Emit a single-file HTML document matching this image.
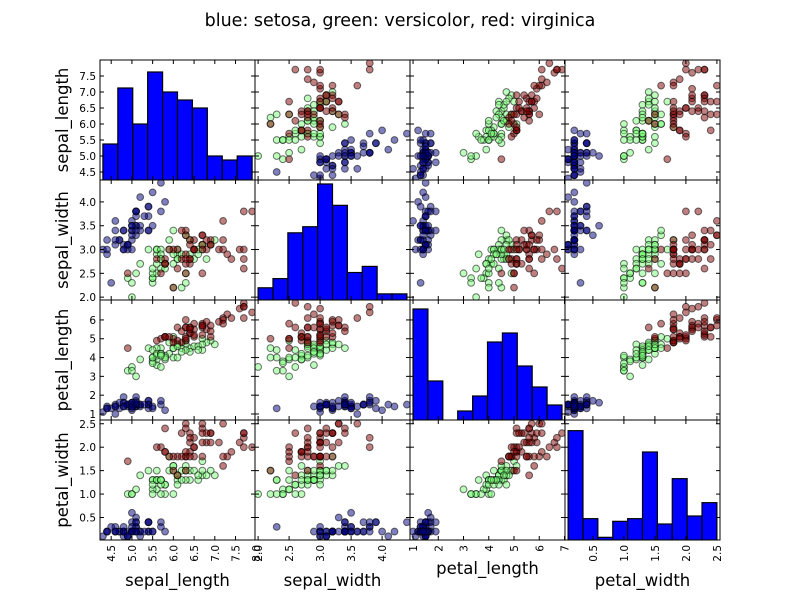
<!DOCTYPE html>
<html><head><meta charset="utf-8"><style>
body{margin:0;background:#fff;}
svg{display:block;font-family:"DejaVu Sans","Liberation Sans",sans-serif;}
</style></head><body>
<svg id="c" width="800" height="600" viewBox="0 0 800 600">
<rect width="800" height="600" fill="#fff"/>
<text x="400" y="26" text-anchor="middle" font-size="17.5">blue: setosa, green: versicolor, red: virginica</text>
</svg>
<script>
const varNames = ["sepal_length","sepal_width","petal_length","petal_width"];
const setosa = [[5.1,3.5,1.4,0.2],[4.9,3.0,1.4,0.2],[4.7,3.2,1.3,0.2],[4.6,3.1,1.5,0.2],[5.0,3.6,1.4,0.2],[5.4,3.9,1.7,0.4],[4.6,3.4,1.4,0.3],[5.0,3.4,1.5,0.2],[4.4,2.9,1.4,0.2],[4.9,3.1,1.5,0.1],[5.4,3.7,1.5,0.2],[4.8,3.4,1.6,0.2],[4.8,3.0,1.4,0.1],[4.3,3.0,1.1,0.1],[5.8,4.0,1.2,0.2],[5.7,4.4,1.5,0.4],[5.4,3.9,1.3,0.4],[5.1,3.5,1.4,0.3],[5.7,3.8,1.7,0.3],[5.1,3.8,1.5,0.3],[5.4,3.4,1.7,0.2],[5.1,3.7,1.5,0.4],[4.6,3.6,1.0,0.2],[5.1,3.3,1.7,0.5],[4.8,3.4,1.9,0.2],[5.0,3.0,1.6,0.2],[5.0,3.4,1.6,0.4],[5.2,3.5,1.5,0.2],[5.2,3.4,1.4,0.2],[4.7,3.2,1.6,0.2],[4.8,3.1,1.6,0.2],[5.4,3.4,1.5,0.4],[5.2,4.1,1.5,0.1],[5.5,4.2,1.4,0.2],[4.9,3.1,1.5,0.1],[5.0,3.2,1.2,0.2],[5.5,3.5,1.3,0.2],[4.9,3.1,1.5,0.1],[4.4,3.0,1.3,0.2],[5.1,3.4,1.5,0.2],[5.0,3.5,1.3,0.3],[4.5,2.3,1.3,0.3],[4.4,3.2,1.3,0.2],[5.0,3.5,1.6,0.6],[5.1,3.8,1.9,0.4],[4.8,3.0,1.4,0.3],[5.1,3.8,1.6,0.2],[4.6,3.2,1.4,0.2],[5.3,3.7,1.5,0.2],[5.0,3.3,1.4,0.2]];
const versicolor = [[7.0,3.2,4.7,1.4],[6.4,3.2,4.5,1.5],[6.9,3.1,4.9,1.5],[5.5,2.3,4.0,1.3],[6.5,2.8,4.6,1.5],[5.7,2.8,4.5,1.3],[6.3,3.3,4.7,1.6],[4.9,2.4,3.3,1.0],[6.6,2.9,4.6,1.3],[5.2,2.7,3.9,1.4],[5.0,2.0,3.5,1.0],[5.9,3.0,4.2,1.5],[6.0,2.2,4.0,1.0],[6.1,2.9,4.7,1.4],[5.6,2.9,3.6,1.3],[6.7,3.1,4.4,1.4],[5.6,3.0,4.5,1.5],[5.8,2.7,4.1,1.0],[6.2,2.2,4.5,1.5],[5.6,2.5,3.9,1.1],[5.9,3.2,4.8,1.8],[6.1,2.8,4.0,1.3],[6.3,2.5,4.9,1.5],[6.1,2.8,4.7,1.2],[6.4,2.9,4.3,1.3],[6.6,3.0,4.4,1.4],[6.8,2.8,4.8,1.4],[6.7,3.0,5.0,1.7],[6.0,2.9,4.5,1.5],[5.7,2.6,3.5,1.0],[5.5,2.4,3.8,1.1],[5.5,2.4,3.7,1.0],[5.8,2.7,3.9,1.2],[6.0,2.7,5.1,1.6],[5.4,3.0,4.5,1.5],[6.0,3.4,4.5,1.6],[6.7,3.1,4.7,1.5],[6.3,2.3,4.4,1.3],[5.6,3.0,4.1,1.3],[5.5,2.5,4.0,1.3],[5.5,2.6,4.4,1.2],[6.1,3.0,4.6,1.4],[5.8,2.6,4.0,1.2],[5.0,2.3,3.3,1.0],[5.6,2.7,4.2,1.3],[5.7,3.0,4.2,1.2],[5.7,2.9,4.2,1.3],[6.2,2.9,4.3,1.3],[5.1,2.5,3.0,1.1],[5.7,2.8,4.1,1.3]];
const virginica = [[6.3,3.3,6.0,2.5],[5.8,2.7,5.1,1.9],[7.1,3.0,5.9,2.1],[6.3,2.9,5.6,1.8],[6.5,3.0,5.8,2.2],[7.6,3.0,6.6,2.1],[4.9,2.5,4.5,1.7],[7.3,2.9,6.3,1.8],[6.7,2.5,5.8,1.8],[7.2,3.6,6.1,2.5],[6.5,3.2,5.1,2.0],[6.4,2.7,5.3,1.9],[6.8,3.0,5.5,2.1],[5.7,2.5,5.0,2.0],[5.8,2.8,5.1,2.4],[6.4,3.2,5.3,2.3],[6.5,3.0,5.5,1.8],[7.7,3.8,6.7,2.2],[7.7,2.6,6.9,2.3],[6.0,2.2,5.0,1.5],[6.9,3.2,5.7,2.3],[5.6,2.8,4.9,2.0],[7.7,2.8,6.7,2.0],[6.3,2.7,4.9,1.8],[6.7,3.3,5.7,2.1],[7.2,3.2,6.0,1.8],[6.2,2.8,4.8,1.8],[6.1,3.0,4.9,1.8],[6.4,2.8,5.6,2.1],[7.2,3.0,5.8,1.6],[7.4,2.8,6.1,1.9],[7.9,3.8,6.4,2.0],[6.4,2.8,5.6,2.2],[6.3,2.8,5.1,1.5],[6.1,2.6,5.6,1.4],[7.7,3.0,6.1,2.3],[6.3,3.4,5.6,2.4],[6.4,3.1,5.5,1.8],[6.0,3.0,4.8,1.8],[6.9,3.1,5.4,2.1],[6.7,3.1,5.6,2.4],[6.9,3.1,5.1,2.3],[5.8,2.7,5.1,1.9],[6.8,3.2,5.9,2.3],[6.7,3.3,5.7,2.5],[6.7,3.0,5.2,2.3],[6.3,2.5,5.0,1.9],[6.5,3.0,5.2,2.0],[6.2,3.4,5.4,2.3],[5.9,3.0,5.1,1.8]];
const histCounts = [
  [9,23,14,27,22,20,18,6,5,6],
  [4,7,22,24,38,31,9,11,2,2],
  [37,13,0,3,8,26,29,18,11,5],
  [41,8,1,7,8,33,6,23,9,14]
];
const histMax = [30,39.3,40,45];
const xTickLabels = [["4.5","5.0","5.5","6.0","6.5","7.0","7.5","8.0"],["2.0","2.5","3.0","3.5","4.0"],["1","2","3","4","5","6","7"],["0.5","1.0","1.5","2.0","2.5"]];
const yTickLabels = [["4.5","5.0","5.5","6.0","6.5","7.0","7.5"],["2.0","2.5","3.0","3.5","4.0"],["1","2","3","4","5","6"],["0.5","1.0","1.5","2.0","2.5"]];

const NS="http://www.w3.org/2000/svg";
const svg=document.getElementById('c');
const L=100,T=60,W=155,H=120;
const xDom=[[4.23,7.97],[1.95,4.45],[0.88,7.02],[0.05,2.55]];
const yDom=[[4.25,8.0],[1.94,4.46],[0.68,7.06],[0.02,2.58]];
const xs=(c,v)=>L+c*W+(v-xDom[c][0])/(xDom[c][1]-xDom[c][0])*W;
const ys=(r,v)=>T+(r+1)*H-(v-yDom[r][0])/(yDom[r][1]-yDom[r][0])*H;
function mk(tag,at,parent){const e=document.createElementNS(NS,tag);for(const k in at)e.setAttribute(k,at[k]);(parent||svg).appendChild(e);return e;}
const defs=mk('defs',{});
for(let r=0;r<4;r++)for(let c=0;c<4;c++){
  const cp=mk('clipPath',{id:'cp'+r+c},defs);
  mk('rect',{x:L+c*W,y:T+r*H,width:W,height:H},cp);
}
const classes=[[setosa,'rgba(0,0,127,0.5)'],[versicolor,'rgba(124,255,121,0.5)'],[virginica,'rgba(127,0,0,0.5)']];
for(let r=0;r<4;r++)for(let c=0;c<4;c++){
  const g=mk('g',{'clip-path':'url(#cp'+r+c+')'});
  
  
  if(r===c){
    const cnt=histCounts[r];
    const all=[].concat(setosa,versicolor,virginica).map(d=>d[c]);
    const lo=Math.min(...all), hi=Math.max(...all);
    const bw=(hi-lo)/cnt.length;
    cnt.forEach((n,i)=>{
      const x0=xs(c,lo+i*bw),x1=xs(c,lo+(i+1)*bw);
      const h=n/histMax[r]*H;
      const b=mk('rect',{x:x0,y:T+(r+1)*H-h,width:x1-x0,height:h,fill:'#0000ff',stroke:'#000','stroke-width':1.2},g);
      
      
    });
  } else {
    classes.forEach(([data,col])=>{
      data.forEach(d=>{
        const p=mk('circle',{cx:xs(c,d[c]),cy:ys(r,d[r]),r:3.4,fill:col,stroke:'rgba(0,0,0,0.55)','stroke-width':1},g);
        
        
      });
    });
  }
  const x0=L+c*W,y0=T+r*H;
  const fr=mk('rect',{x:x0,y:y0,width:W,height:H,fill:'none',stroke:'#000','stroke-width':1});
  
  
  xTickLabels[c].forEach(t=>{const x=xs(c,+t);if(x<x0-0.5||x>x0+W+0.5)return;
    mk('line',{x1:x,x2:x,y1:y0+H,y2:y0+H-4,stroke:'#000'});mk('line',{x1:x,x2:x,y1:y0,y2:y0+4,stroke:'#000'});});
  yTickLabels[r].forEach(t=>{const y=ys(r,+t);if(y<y0-0.5||y>y0+H+0.5)return;
    mk('line',{x1:x0,x2:x0+4,y1:y,y2:y,stroke:'#000'});mk('line',{x1:x0+W,x2:x0+W-4,y1:y,y2:y,stroke:'#000'});});
}
for(let r=0;r<4;r++){
  yTickLabels[r].forEach(t=>{
    const e=mk('text',{x:96,y:ys(r,+t)+4,'text-anchor':'end','font-size':10.5});
    e.textContent=t;
    
    
  });
  const yl=mk('text',{transform:`translate(68,${T+r*H+H/2}) rotate(-90)`,'text-anchor':'middle','font-size':16.5});
  yl.textContent=varNames[r];
  
  
}
const xlY=[586,586,574,586];
for(let c=0;c<4;c++){
  xTickLabels[c].forEach(t=>{
    const x=xs(c,+t);
    const e=mk('text',{transform:`translate(${x+4},545) rotate(-90)`,'text-anchor':'end','font-size':10.5});
    e.textContent=t;
    
    
  });
  const xl=mk('text',{x:L+c*W+W/2,y:xlY[c],'text-anchor':'middle','font-size':16.5});
  xl.textContent=varNames[c];
  
  
}
</script>
</body></html>
